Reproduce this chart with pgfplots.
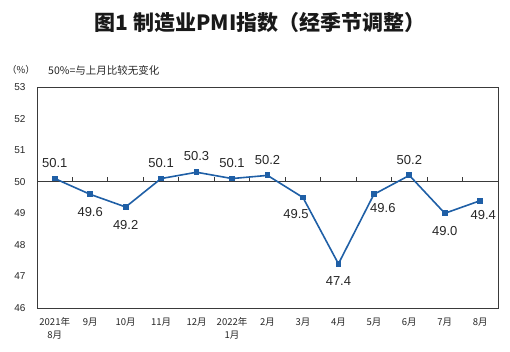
\documentclass[border=0pt]{standalone}
\usepackage{fontspec}
\setmainfont{Liberation Sans}
\newfontfamily\cjk{Noto Sans CJK SC}
\usepackage{pgfplots}
\usepackage{pgfplotstable}
\pgfplotsset{compat=1.18}
\definecolor{pmiblue}{HTML}{1F5FA6}
\definecolor{framegray}{HTML}{3A3A3A}
\pgfplotstableread{
x y
0 50.1
1 49.6
2 49.2
3 50.1
4 50.3
5 50.1
6 50.2
7 49.5
8 47.4
9 49.6
10 50.2
11 49.0
12 49.4
}\pmidata
\begin{document}
\begin{tikzpicture}
\useasboundingbox (0,0) rectangle (510pt,352pt);
\node[font=\cjk\bfseries\fontsize{21}{24}\selectfont, text=black!90] at (260pt,329pt) {图1 制造业PMI指数（经季节调整）};
\node[font=\cjk\fontsize{9.5}{10}\selectfont, anchor=west, inner sep=0pt, text=black!85] at (7pt,282pt) {（\%）};
\node[font=\cjk\fontsize{10.5}{12}\selectfont, anchor=west, inner sep=0pt, text=black!85] at (48pt,282pt) {50\%=与上月比较无变化};
\begin{axis}[
  at={(37pt,44pt)}, anchor=south west,
  scale only axis, width=461pt, height=221pt,
  xmin=-0.5, xmax=12.5, ymin=46, ymax=53,
  ytick={46,47,...,53},
  xtick={0,...,12},
  xticklabels={{2021年\\8月},9月,10月,11月,12月,{2022年\\1月},2月,3月,4月,5月,6月,7月,8月},
  xticklabel style={font=\cjk\fontsize{9.5}{13}\selectfont, align=center, text=black!85, anchor=north, yshift=-6pt},
  yticklabel style={font=\fontsize{10}{11}\selectfont, text=black!85, xshift=-8pt},
  /pgf/number format/assume math mode=true,
  major tick length=0pt,
  axis line style={framegray, line width=0.8pt},
  clip=false,
  tk/.style={framegray, line width=0.9pt, mark=none, forget plot},
  lbl/.style={draw=none, mark=none, nodes near coords, point meta=y,
    nodes near coords style={font=\fontsize{13}{15}\selectfont, text=black!85, inner sep=0pt,
      /pgf/number format/fixed, /pgf/number format/fixed zerofill, /pgf/number format/precision=1, /pgf/number format/assume math mode=true}},
]
% reference line at 50
\addplot[framegray, line width=0.8pt, mark=none] coordinates {(-0.5,50) (12.5,50)};
% small tick marks on the 50 line between categories
\addplot[tk] coordinates {(0.5,50) (0.5,50.15)};
\addplot[tk] coordinates {(1.5,50) (1.5,50.15)};
\addplot[tk] coordinates {(2.5,50) (2.5,50.15)};
\addplot[tk] coordinates {(3.5,50) (3.5,50.15)};
\addplot[tk] coordinates {(4.5,50) (4.5,50.15)};
\addplot[tk] coordinates {(5.5,50) (5.5,50.15)};
\addplot[tk] coordinates {(6.5,50) (6.5,50.15)};
\addplot[tk] coordinates {(7.5,50) (7.5,50.15)};
\addplot[tk] coordinates {(8.5,50) (8.5,50.15)};
\addplot[tk] coordinates {(9.5,50) (9.5,50.15)};
\addplot[tk] coordinates {(10.5,50) (10.5,50.15)};
\addplot[tk] coordinates {(11.5,50) (11.5,50.15)};
\addplot[
  color=pmiblue, line width=1.6pt,
  mark=square*, mark size=2.4pt, mark options={solid, fill=pmiblue, line width=0pt},
] table[x=x, y=y] {\pmidata};
% labels above
\addplot[lbl, nodes near coords style={anchor=south, yshift=11pt}] coordinates {(0,50.1) (3,50.1) (4,50.3) (5,50.1) (6,50.2) (10,50.2)};
% labels below
\addplot[lbl, nodes near coords style={anchor=north, yshift=-13pt}] coordinates {(1,49.6) (2,49.2) (8,47.4) (11,49.0)};
\addplot[lbl, nodes near coords style={anchor=north, yshift=-12pt, xshift=-7pt}] coordinates {(7,49.5)};
\addplot[lbl, nodes near coords style={anchor=north, yshift=-9pt, xshift=9pt}] coordinates {(9,49.6)};
\addplot[lbl, nodes near coords style={anchor=north, yshift=-10pt, xshift=3pt}] coordinates {(12,49.4)};
\end{axis}
\end{tikzpicture}
\end{document}
